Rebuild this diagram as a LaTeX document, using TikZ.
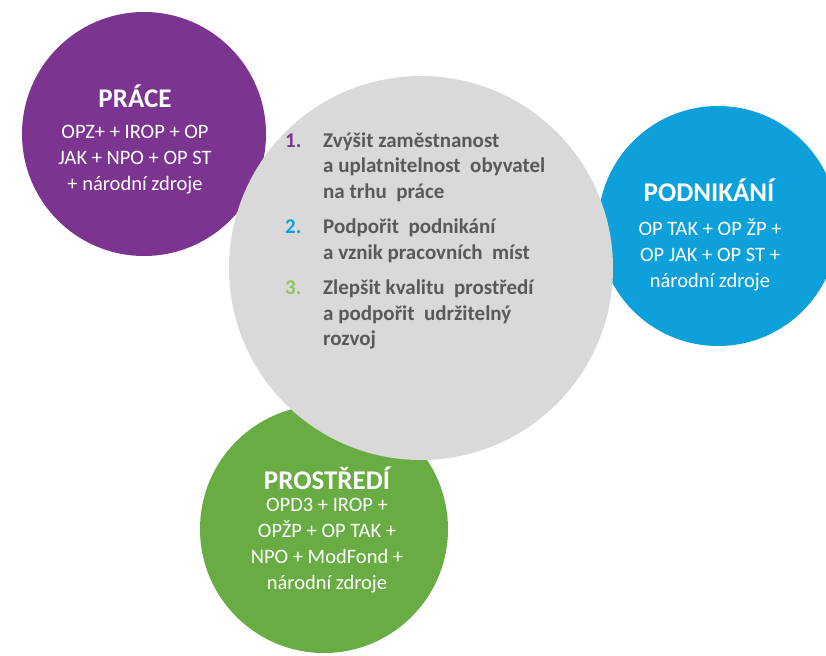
\documentclass[tikz,border=0pt]{standalone}
\usepackage{fontspec}
\setmainfont{Carlito}
\usepackage{array}
\definecolor{cpurple}{HTML}{7B3590}
\definecolor{cblue}{HTML}{0EA0DA}
\definecolor{cgreen}{HTML}{6AAC44}
\definecolor{cgray}{HTML}{D9D9D9}
\definecolor{txtgray}{HTML}{595959}
\definecolor{numgreen}{HTML}{92C35B}
\tikzset{
  bubble/.style={circle, inner sep=0, draw=none},
  title/.style={text=white, font=\bfseries\fontsize{27}{32}\selectfont, inner sep=0},
  body/.style={text=white, font=\fontsize{20.5}{26}\selectfont, align=center, inner sep=0, anchor=north}
}
\begin{document}
\begin{tikzpicture}[x=1pt,y=-1pt]
\useasboundingbox (0,0) rectangle (826,655);
\node[bubble, fill=cpurple, minimum size=244pt] (prace) at (144,134) {};
\node[bubble, fill=cblue, minimum size=240pt] (podn) at (718,226) {};
\node[bubble, fill=cgreen, minimum size=248pt] (prost) at (324,529) {};
\node[bubble, fill=cgray, minimum size=384pt] (center) at (421,268) {};
% titles
\node[title] (t1) at (135,96) {PRÁCE};
\node[body] (b1) at (135,125) {OPZ+ + IROP + OP\\JAK + NPO + OP ST\\+ národní zdroje};
\node[title] (t2) at (709,190) {PODNIKÁNÍ};
\node[body] (b2) at (710,219) {OP TAK + OP ŽP +\\OP JAK + OP ST +\\národní zdroje};
\node[title] (t3) at (327,478) {PROSTŘEDÍ};
\node[body] (b3) at (327,498) {OPD3 + IROP +\\OPŽP + OP TAK +\\NPO + ModFond +\\národní zdroje};
% list
\node[anchor=north west, inner sep=0, text=txtgray, font=\bfseries\fontsize{21}{25.5}\selectfont] (list) at (285,129) {%
\begin{tabular}{@{}p{38pt}@{}l@{}}
\textcolor{cpurple}{1.} & Zvýšit zaměstnanost\\
 & a uplatnitelnost~ obyvatel\\
 & na trhu~ práce\\[10pt]
\textcolor{cblue}{2.} & Podpořit~ podnikání\\
 & a vznik pracovních~ míst\\[10pt]
\textcolor{numgreen}{3.} & Zlepšit kvalitu~ prostředí\\
 & a podpořit~ udržitelný\\
 & rozvoj
\end{tabular}};
\end{tikzpicture}
\end{document}
